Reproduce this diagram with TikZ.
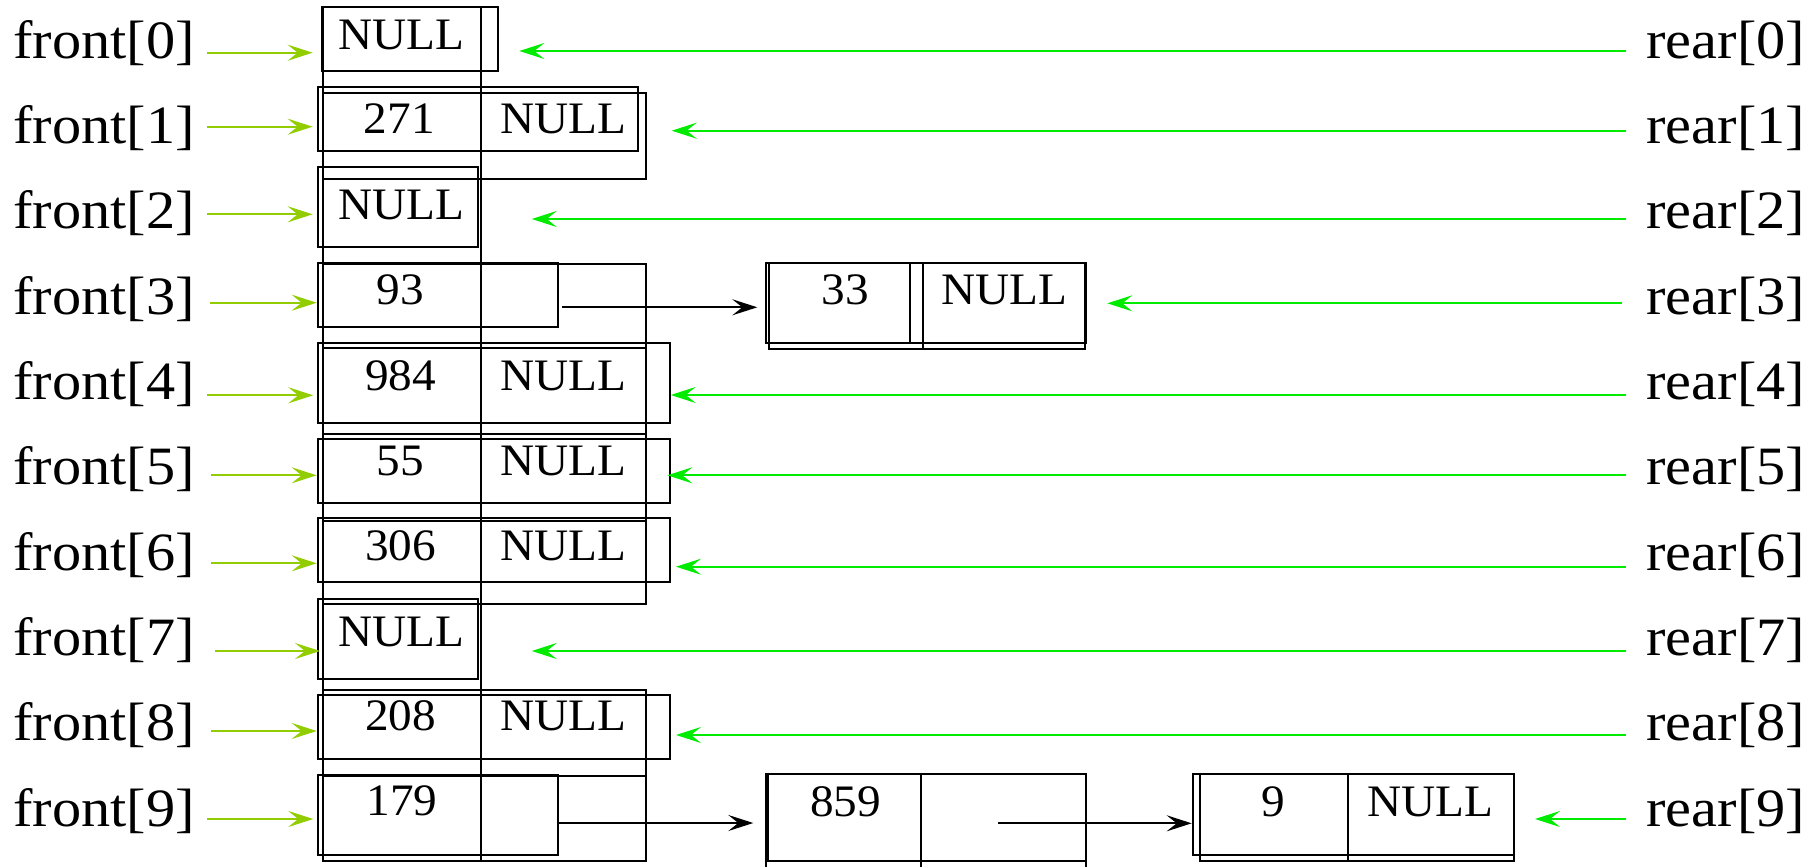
\documentclass[tikz,border=0pt]{standalone}
\usepackage{fontspec}
\setmainfont{Liberation Serif}
\newfontfamily\lblfont{Liberation Serif}[FakeStretch=1.08]
\newfontfamily\boxfont{Liberation Serif}[FakeStretch=1.05]
\usetikzlibrary{arrows.meta}
\definecolor{fgreen}{RGB}{145,205,0}
\definecolor{rgreen}{RGB}{0,235,0}
\begin{document}
\begin{tikzpicture}[x=0.5pt,y=-0.5pt,
  box/.style={draw=black,line width=1.05pt},
  lbl/.style={inner sep=0pt,font=\lblfont\fontsize{27}{31}\selectfont,anchor=base west},
  val/.style={inner sep=0pt,font=\boxfont\fontsize{22.5}{26}\selectfont,anchor=base},
  tip/.style={-{Stealth[length=12.5pt,width=8pt,inset=5pt]}},
  farrow/.style={tip,draw=fgreen,line width=1.15pt},
  rarrow/.style={tip,draw=rgreen,line width=1.15pt},
  barrow/.style={tip,draw=black,line width=1.1pt}]
\useasboundingbox (0,0) rectangle (1806,867);
\fill[white] (0,0) rectangle (1806,867);
\begin{scope}
\clip (0,0) rectangle (1806,867);
% grid layer
\foreach \t/\b in {6.7/92.7,92.7/178.7,178.7/264,264/348.3,348.3/434.3,434.3/521,521/604.3,604.3/690,690/776,776/860.7}
  \draw[box] (322.7,\t) rectangle (480.7,\b);
\foreach \t/\b in {92.7/178.7,264/348.3,348.3/434.3,434.3/521,521/604.3,690/776,776/860.7}
  \draw[box] (480.7,\t) rectangle (646,\b);
% offset layer
\foreach \l/\t/\r/\b in {321.7/6.7/498.3/70.7, 317.7/86.7/638.3/150.7, 317.7/167.3/478.3/247.3,
  317.7/263.3/558.3/327.3, 317.7/342.7/670/422.7, 317.7/438.7/670/502.7, 317.7/518.3/670/582.3,
  317.7/599/478.3/679, 317.7/694.7/670/759, 317.7/775/558.3/855}
  \draw[box] (\l,\t) rectangle (\r,\b);
% side nodes
\draw[box] (765.7,263.3) rectangle (1085.7,342.7); \draw[box] (910,263.3) -- (910,342.7);
\draw[box] (768.7,263.3) rectangle (1085,348.7); \draw[box] (922.7,263.3) -- (922.7,348.7);
\draw[box] (765.7,774.3) rectangle (1085.7,900); \draw[box] (921,774.3) -- (921,900);
\draw[box] (768.3,774.3) rectangle (1085.7,860.7);
\draw[box] (1192.7,774.3) rectangle (1514.3,855);
\draw[box] (1200,774.3) rectangle (1514.3,860.7); \draw[box] (1347.7,774.3) -- (1347.7,860.7);
\end{scope}
% values
\node[val] (v0) at (401.7,49.3) {NULL};
\node[val] (v1a) at (399.3,133.3) {271};
\node[val] (v1b) at (563.3,133.3) {NULL};
\node[val] (v2) at (401.7,219) {NULL};
\node[val] (v3) at (400.3,304) {93};
\node[val] (v4a) at (400.8,390) {984};
\node[val] (v4b) at (563.3,390) {NULL};
\node[val] (v5a) at (400.3,475) {55};
\node[val] (v5b) at (563.3,475) {NULL};
\node[val] (v6a) at (400.8,560.7) {306};
\node[val] (v6b) at (563.3,560.7) {NULL};
\node[val] (v7) at (401.7,646.7) {NULL};
\node[val] (v8a) at (400.8,730.7) {208};
\node[val] (v8b) at (563.3,730.7) {NULL};
\node[val] (v9) at (402,815.7) {179};
\node[val] (w3a) at (845,304) {33};
\node[val] (w3b) at (1004.5,304) {NULL};
\node[val] (w9) at (845.8,816) {859};
\node[val] (x9a) at (1273.3,816) {9};
\node[val] (x9b) at (1430.5,816) {NULL};
% labels
\foreach \k in {0,...,9} {
  \node[lbl] (f\k) at (13,{58.3+85.3*\k}) {front[\k]};
  \node[lbl] (r\k) at (1646,{58.3+85.3*\k}) {rear[\k]};
}
% front arrows
\foreach \k/\sx/\ex/\yy in {0/206.7/312.7/52.7, 1/206.7/312.7/126.7, 2/207/312.7/214.3, 3/210/316.7/302.7,
  4/206.7/313.3/395.3, 5/210.7/316.7/475.3, 6/211/316.7/563.3, 7/215/320/651, 8/211/316.7/731, 9/207/313.3/819} {
  \coordinate (fs\k) at (\sx,\yy); \coordinate (fe\k) at (\ex,\yy);
  \draw[farrow] (fs\k) -- (fe\k);
}
% rear arrows
\foreach \k/\sx/\ex/\yy in {0/1626/519.3/51, 1/1626/671.7/130.7, 2/1626/531.7/219, 3/1622/1107.3/303.3,
  4/1626/670.7/395, 5/1626/667.3/475.3, 6/1626/676/566.7, 7/1626/531.7/651, 8/1626/676/735, 9/1626/1535/819} {
  \coordinate (rs\k) at (\sx,\yy); \coordinate (re\k) at (\ex,\yy);
  \draw[rarrow] (rs\k) -- (re\k);
}
% link arrows
\coordinate (p3) at (562.3,307.3); \coordinate (q3) at (757.3,307.3);
\coordinate (p9) at (558.3,823); \coordinate (q9) at (753.3,823);
\coordinate (p9b) at (998.3,823.3); \coordinate (q9b) at (1191.7,823.3);
\draw[barrow] (p3) -- (q3);
\draw[barrow] (p9) -- (q9);
\draw[barrow] (p9b) -- (q9b);
\end{tikzpicture}
\end{document}
